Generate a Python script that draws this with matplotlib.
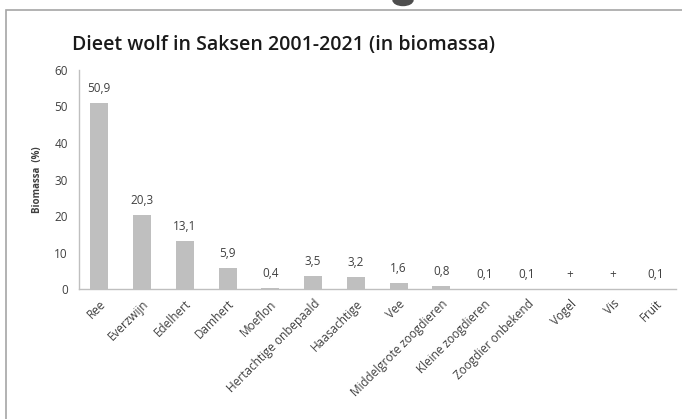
import matplotlib.pyplot as plt
from matplotlib.patches import Rectangle, Ellipse

categories = ["Ree", "Everzwijn", "Edelhert", "Damhert", "Moeflon",
              "Hertachtige onbepaald", "Haasachtige", "Vee",
              "Middelgrote zoogdieren", "Kleine zoogdieren",
              "Zoogdier onbekend", "Vogel", "Vis", "Fruit"]
values = [50.9, 20.3, 13.1, 5.9, 0.4, 3.5, 3.2, 1.6, 0.8, 0.1, 0.1, 0.0, 0.0, 0.1]
value_labels = ["50,9", "20,3", "13,1", "5,9", "0,4", "3,5", "3,2", "1,6",
                "0,8", "0,1", "0,1", "+", "+", "0,1"]
y_ticks = [0, 10, 20, 30, 40, 50, 60]

plt.rcParams['font.family'] = ['Open Sans', 'DejaVu Sans']
txt = '#404040'

fig = plt.figure(figsize=(6.82, 4.19), dpi=100)
ax = fig.add_axes([0.116, 0.310, 0.875, 0.523])

x = list(range(len(categories)))
ax.bar(x, values, width=0.42, color='#bfbfbf')
for xi, v, lab in zip(x, values, value_labels):
    ax.text(xi, v + 2.2, lab, ha='center', va='bottom', fontsize=8.5, color=txt)

ax.set_xlim(-0.47, 13.48)
ax.set_ylim(0, 60)
ax.set_yticks(y_ticks)
ax.set_yticklabels([str(t) for t in y_ticks], fontsize=8.5, color=txt)
ax.set_xticks(x)
ax.set_xticklabels(categories, rotation=45, ha='right', rotation_mode='anchor',
                   fontsize=8.5, color=txt)
ax.tick_params(axis='both', length=0, pad=8)
ax.tick_params(axis='x', pad=6)
for s in ['top', 'right']:
    ax.spines[s].set_visible(False)
for s in ['left', 'bottom']:
    ax.spines[s].set_color('#bfbfbf')
    ax.spines[s].set_linewidth(1.0)

ax.set_ylabel("Biomassa  (%)", fontsize=7, fontweight='bold', color='#404040', labelpad=8)

fig.text(0.106, 0.893, "Dieet wolf in Saksen 2001-2021 (in biomassa)",
         fontsize=14, fontweight='semibold', color='#1a1a1a', ha='left', va='center')

# outer frame and the little tab at the top
fig.patches.append(Rectangle((6 / 682, -0.01), 1.0, 1 - 10 / 419 + 0.01,
                             transform=fig.transFigure, fill=False,
                             edgecolor='#a6a6a6', linewidth=1.2))
fig.patches.append(Ellipse((403 / 682, 1.0), 20 / 682, 11 / 419,
                           transform=fig.transFigure, color='#4d4d4d'))

fig.savefig("out.png", dpi=100)
